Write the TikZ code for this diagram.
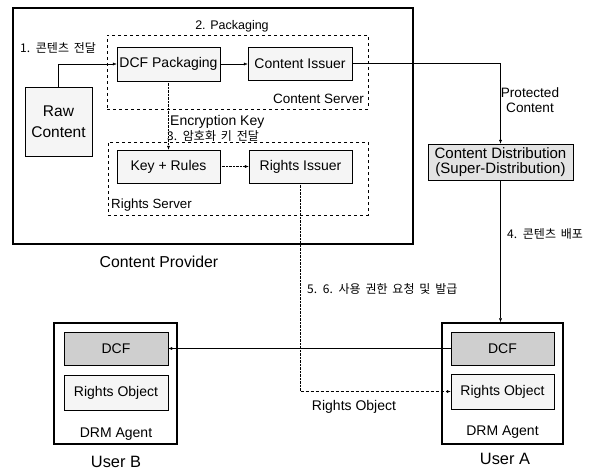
\documentclass[tikz,border=0pt]{standalone}
\usepackage{fontspec}
\setmainfont{Liberation Sans}
\newfontfamily\kr[WordSpace=1.8]{Noto Sans CJK KR}
\usetikzlibrary{calc,arrows.meta}

\begin{document}
\begin{tikzpicture}[x=1pt,y=-1pt,
    box/.style={draw, rectangle, fill=gray!8, inner sep=0pt, font=\fontsize{14}{16}\selectfont},
    dcfbox/.style={box, fill=gray!38},
    group/.style={draw, dashed, rectangle, inner sep=0pt},
    agent/.style={draw, line width=1.5pt, rectangle, inner sep=0pt},
    lbl/.style={inner sep=0pt, font=\fontsize{14}{16}\selectfont},
    krlbl/.style={inner sep=0pt, font=\kr\fontsize{12}{14}\selectfont},
    tip/.style={-{Latex[length=4pt,width=3pt]}}]
  \useasboundingbox (0,0) rectangle (592,471);

  % content provider side
  \node[draw, line width=1.7pt, rectangle, minimum width=400pt, minimum height=236pt] (cp) at (213,126) {};
  \node[group, minimum width=261pt, minimum height=74pt] (cserver) at (237.5,72) {};
  \node[group, minimum width=260pt, minimum height=73pt] (rserver) at (238,178.5) {};
  \node[box, minimum width=103pt, minimum height=34pt] (dcfpack) at (168.5,64) {DCF Packaging};
  \node[box, minimum width=104pt, minimum height=33pt] (issuer) at (300,63.5) {Content Issuer};
  \node[box, minimum width=67pt, minimum height=69pt, align=center, font=\fontsize{15.5}{21}\selectfont] (raw) at (58.5,121.5) {Raw\\Content};
  \node[box, minimum width=103pt, minimum height=33pt] (keyrules) at (168.5,166.5) {Key + Rules};
  \node[box, minimum width=103pt, minimum height=33pt] (rissuer) at (300.5,166.5) {Rights Issuer};

  \node[krlbl, anchor=west] (step1) at (20,48) {1. 콘텐츠 전달};
  \node[lbl, font=\fontsize{12.5}{14}\selectfont] (step2) at (232,26) {2. Packaging};
  \node[lbl, anchor=east, font=\fontsize{13.5}{15}\selectfont] (csname) at (364,99) {Content Server};
  \node[lbl, anchor=west] (enckey) at (170,122) {Encryption Key};
  \node[krlbl, anchor=west] (step3) at (167,136) {3. 암호화 키 전달};
  \node[lbl, anchor=west, font=\fontsize{13.3}{15}\selectfont] (rsname) at (111,205) {Rights Server};
  \node[lbl, font=\fontsize{15.8}{18}\selectfont] (cpname) at (159,262) {Content Provider};

  % distribution
  \node[box, fill=gray!22, minimum width=145pt, minimum height=36pt, align=center, font=\fontsize{15}{15}\selectfont] (dist) at (500.5,162) {Content Distribution\\(Super-Distribution)};
  \node[lbl, align=center, font=\fontsize{13.6}{14.5}\selectfont] (protected) at (530,100) {Protected\\Content};
  \node[krlbl, anchor=west] (step4) at (507,234) {4. 콘텐츠 배포};
  \node[krlbl, anchor=west] (step56) at (307,289) {5. 6. 사용 권한 요청 및 발급};

  % users
  \node[agent, minimum width=121pt, minimum height=121pt] (usera) at (502.5,383.5) {};
  \node[dcfbox, minimum width=103pt, minimum height=33pt] (dcfa) at (502.5,348.5) {DCF};
  \node[box, minimum width=103pt, minimum height=35pt] (roa) at (502.5,391.5) {Rights Object};
  \node[lbl] (agenta) at (502.5,432) {DRM Agent};
  \node[lbl, font=\fontsize{16.4}{18}\selectfont] (namea) at (505,459) {User A};

  \node[agent, minimum width=123pt, minimum height=121pt] (userb) at (115.5,383.5) {};
  \node[dcfbox, minimum width=104pt, minimum height=33pt] (dcfb) at (116,348.5) {DCF};
  \node[box, minimum width=104pt, minimum height=35pt] (rob) at (116,392.5) {Rights Object};
  \node[lbl] (agentb) at (116,434) {DRM Agent};
  \node[lbl, font=\fontsize{16.4}{18}\selectfont] (nameb) at (116,462) {User B};

  \node[lbl] (rolabel) at (354,407) {Rights Object};

  % connectors
  \draw[tip] (raw.north) |- (dcfpack.west);
  \draw[tip] (dcfpack.east) -- (issuer.west |- dcfpack.east);
  \draw[tip] (issuer.east) -| (dist.north);
  \draw[tip, densely dotted] (dcfpack.south) -- (keyrules.north);
  \draw[tip, densely dotted] (keyrules.east) -- (rissuer.west);
  \draw[tip] (dist.south) -- (usera.north -| dist.south);
  \draw[tip] (dcfa.west) -- (dcfb.east);
  \coordinate (turn) at (rissuer.south |- roa.west);
  \draw[densely dotted] (rissuer.south) -- (turn);
  \draw[tip, densely dashed] (turn) -- (roa.west);
\end{tikzpicture}
\end{document}
